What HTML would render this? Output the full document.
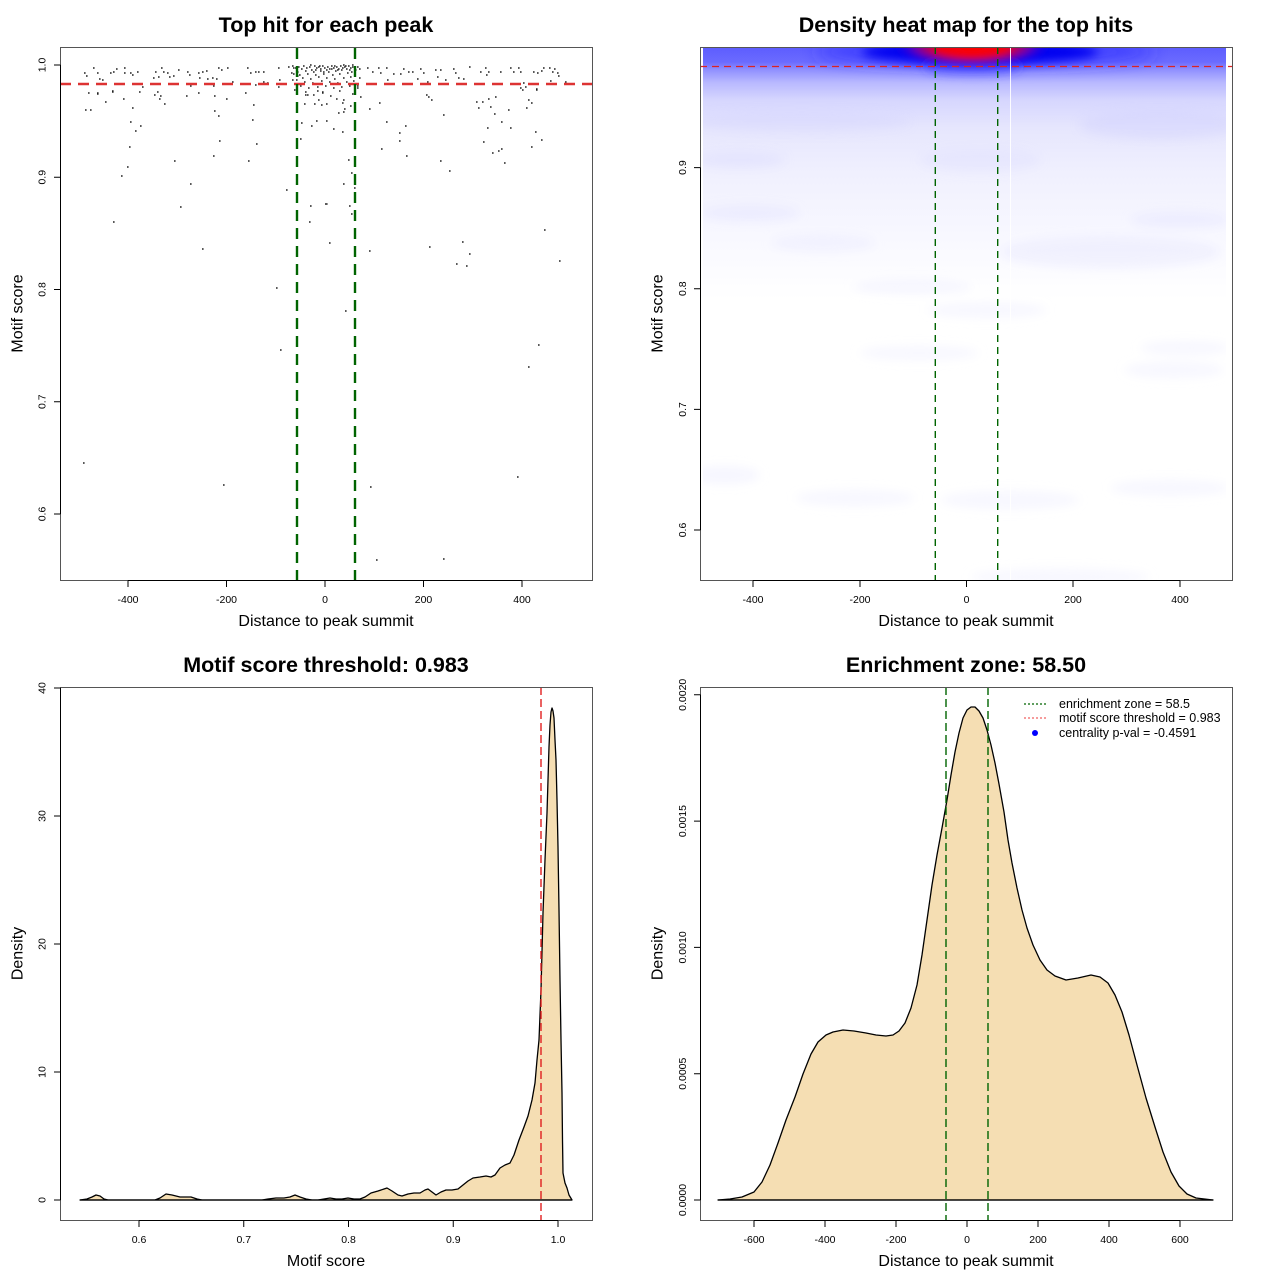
<!DOCTYPE html>
<html><head><meta charset="utf-8"><style>
body{margin:0;background:#fff}
svg{display:block}
text{font-family:"Liberation Sans",Arial,sans-serif;fill:#000}
.tk{font-size:10.5px}
.lab{font-size:16px}
.ttl{font-size:21.5px;font-weight:bold}
.leg{font-size:12.5px}
</style></head><body>
<svg width="1280" height="1280" viewBox="0 0 1280 1280" xmlns="http://www.w3.org/2000/svg">
<defs>
<clipPath id="hmclip"><rect x="703" y="47" width="523" height="533"/></clipPath>
<filter id="bl3" filterUnits="userSpaceOnUse" x="0" y="0" width="1280" height="1280"><feGaussianBlur stdDeviation="3"/></filter>
<filter id="bl5" filterUnits="userSpaceOnUse" x="0" y="0" width="1280" height="1280"><feGaussianBlur stdDeviation="5"/></filter>
<filter id="bl8" filterUnits="userSpaceOnUse" x="0" y="0" width="1280" height="1280"><feGaussianBlur stdDeviation="8"/></filter>
<linearGradient id="hg" gradientUnits="userSpaceOnUse" x1="0" y1="47" x2="0" y2="300">
<stop offset="0" stop-color="#5c5cff"/>
<stop offset="0.06" stop-color="#6b6bff"/>
<stop offset="0.09" stop-color="#9090ff"/>
<stop offset="0.14" stop-color="#b8b8ff"/>
<stop offset="0.21" stop-color="#d6d6fe"/>
<stop offset="0.32" stop-color="#e6e6fd"/>
<stop offset="0.5" stop-color="#f0f0fe"/>
<stop offset="0.75" stop-color="#f8f8ff"/>
<stop offset="1" stop-color="#ffffff"/>
</linearGradient>
<radialGradient id="rg" gradientUnits="objectBoundingBox" cx="0.5" cy="0.5" r="0.5">
<stop offset="0" stop-color="#ff0000" stop-opacity="1"/>
<stop offset="0.45" stop-color="#f00010" stop-opacity="1"/>
<stop offset="0.72" stop-color="#9000a0" stop-opacity="0.75"/>
<stop offset="1" stop-color="#0000ff" stop-opacity="0"/>
</radialGradient>
</defs>

<!-- ============ TOP LEFT ============ -->
<text class="ttl" x="326" y="32" text-anchor="middle">Top hit for each peak</text>
<path fill="none" stroke="#222" stroke-width="1.6" d="M88 93h1.6M97 94h1.6M112 92h1.6M123 99h1.6M105 102h1.6M85 110h1.6M90 110h1.6M139 92h1.6M132 108h1.6M130 122h1.6M140 126h1.6M135 131h1.6M129 147h1.6M127 167h1.6M121 176h1.6M113 222h1.6M154 95h1.6M157 92h1.6M160 96h1.6M159 99h1.6M164 104h1.6M186 96h1.6M198 93h1.6M214 96h1.6M226 99h1.6M245 93h1.6M253 105h1.6M214 111h1.6M218 116h1.6M252 120h1.6M219 141h1.6M256 144h1.6M213 156h1.6M248 161h1.6M174 161h1.6M190 184h1.6M180 207h1.6M286 190h1.6M202 249h1.6M276 288h1.6M280 350h1.6M83 463h1.6M223 485h1.6M305 95h1.6M307 95h1.6M317 91h1.6M322 92h1.6M304 104h1.6M314 104h1.6M321 105h1.6M301 123h1.6M316 121h1.6M311 126h1.6M300 139h1.6M310 206h1.6M309 222h1.6M325 204h1.6M343 100h1.6M350 106h1.6M344 109h1.6M343 112h1.6M338 113h1.6M326 121h1.6M333 129h1.6M342 132h1.6M369 109h1.6M379 103h1.6M426 95h1.6M428 97h1.6M431 100h1.6M443 115h1.6M386 122h1.6M405 126h1.6M399 133h1.6M399 141h1.6M381 149h1.6M406 156h1.6M440 161h1.6M449 171h1.6M476 102h1.6M482 102h1.6M488 99h1.6M495 97h1.6M478 108h1.6M490 107h1.6M494 114h1.6M508 110h1.6M501 122h1.6M487 128h1.6M510 128h1.6M483 142h1.6M492 153h1.6M498 151h1.6M501 149h1.6M504 163h1.6M526 108h1.6M528 100h1.6M531 103h1.6M535 132h1.6M541 140h1.6M531 147h1.6M348 160h1.6M351 173h1.6M343 184h1.6M354 188h1.6M349 206h1.6M351 214h1.6M326 204h1.6M329 243h1.6M369 251h1.6M429 247h1.6M462 242h1.6M469 254h1.6M456 264h1.6M466 266h1.6M544 230h1.6M559 261h1.6M345 311h1.6M538 345h1.6M528 367h1.6M517 477h1.6M370 487h1.6M376 560h1.6M443 559h1.6M536 90h1.6M522 90h1.6
M84 73h1.6M86 76h1.6M93 68h1.6M97 73h1.6M99 79h1.6M102 80h1.6M88 93h1.6M97 93h1.6M110 73h1.6M113 72h1.6M116 69h1.6M112 91h1.6M124 68h1.6M124 73h1.6M130 73h1.6M132 75h1.6M137 72h1.6M139 92h1.6M142 87h1.6M153 78h1.6M155 72h1.6M158 77h1.6M161 68h1.6M163 72h1.6M167 73h1.6M169 77h1.6M173 76h1.6M178 70h1.6M187 72h1.6M189 75h1.6M186 96h1.6M190 86h1.6M198 73h1.6M202 72h1.6M206 71h1.6M199 78h1.6M207 79h1.6M212 78h1.6M216 79h1.6M218 68h1.6M221 70h1.6M227 68h1.6M213 86h1.6M232 82h1.6M247 68h1.6M250 73h1.6M255 72h1.6M258 72h1.6M263 72h1.6M255 85h1.6M263 82h1.6M267 83h1.6M278 68h1.6M279 80h1.6M288 67h1.6M291 73h1.6M293 68h1.6M278 87h1.6M292 80h1.6
M367 68h1.6M372 72h1.6M378 68h1.6M386 68h1.6M380 73h1.6M387 80h1.6M393 74h1.6M400 74h1.6M403 69h1.6M408 72h1.6M412 72h1.6M420 69h1.6M423 73h1.6M417 79h1.6M427 82h1.6M435 70h1.6M440 70h1.6M437 77h1.6M445 80h1.6M453 69h1.6M455 73h1.6M458 78h1.6M463 79h1.6M469 67h1.6M480 72h1.6M485 68h1.6M488 72h1.6M486 75h1.6M500 72h1.6M510 68h1.6M513 72h1.6M518 68h1.6M520 72h1.6M523 83h1.6M510 84h1.6M533 72h1.6M537 73h1.6M541 71h1.6M543 68h1.6M549 68h1.6M552 72h1.6M554 69h1.6M557 73h1.6M558 76h1.6M550 81h1.6M565 82h1.6M536 89h1.6M520 88h1.6M525 87h1.6
M292 66h1.6M295 68h1.6M298 67h1.6M301 69h1.6M303 66h1.6M306 68h1.6M309 67h1.6M311 70h1.6M314 66h1.6M316 68h1.6M318 67h1.6M320 69h1.6M322 66h1.6M324 68h1.6M327 67h1.6M329 69h1.6M331 66h1.6M333 68h1.6M336 67h1.6M338 69h1.6M340 66h1.6M342 68h1.6M344 67h1.6M346 69h1.6M348 66h1.6M350 68h1.6M352 67h1.6M345 66h1.6M341 70h1.6M335 71h1.6M328 72h1.6M320 71h1.6M313 72h1.6M305 71h1.6M297 72h1.6M293 74h1.6M299 75h1.6M307 74h1.6M315 75h1.6M323 74h1.6M332 75h1.6M339 74h1.6M347 73h1.6M351 72h1.6M355 70h1.6M357 67h1.6M359 69h1.6M302 78h1.6M310 79h1.6M318 77h1.6M326 78h1.6M334 79h1.6M343 78h1.6M350 77h1.6M296 80h1.6M304 82h1.6M312 83h1.6M321 81h1.6M329 82h1.6M337 83h1.6M346 82h1.6M353 81h1.6M300 86h1.6M308 88h1.6M317 87h1.6M325 86h1.6M333 88h1.6M341 87h1.6M349 86h1.6M357 88h1.6M294 90h1.6M305 92h1.6M313 95h1.6M322 93h1.6M330 96h1.6M339 91h1.6M352 94h1.6M360 97h1.6M318 100h1.6M326 104h1.6M342 103h1.6M336 99h1.6M357 86h1.6M359 78h1.6M297 76h1.6M315 70h1.6M323 72h1.6M349 70h1.6M334 66h1.6M343 65h1.6M352 65h1.6M331 69h1.6M337 70h1.6M326 70h1.6M319 66h1.6M310 65h1.6"/>
<line x1="60" y1="84" x2="592" y2="84" stroke="#dd3333" stroke-width="2.6" stroke-dasharray="11,7"/>
<line x1="297" y1="48" x2="297" y2="580" stroke="#006400" stroke-width="2.4" stroke-dasharray="11,7"/>
<line x1="355" y1="48" x2="355" y2="580" stroke="#006400" stroke-width="2.4" stroke-dasharray="11,7"/>
<rect x="60.5" y="47.5" width="532" height="533" fill="none" stroke="#555" stroke-width="1"/>
<g stroke="#000" stroke-width="1" fill="none">
<path d="M60.5 65V514M54 65H60.5M54 177.25H60.5M54 289.5H60.5M54 401.75H60.5M54 514H60.5"/>
<path d="M128 580.5H522M128 580.5V587M226.5 580.5V587M325 580.5V587M423.5 580.5V587M522 580.5V587"/>
</g>
<g class="tk" text-anchor="middle">
<text transform="translate(45.5,65) rotate(-90)">1.0</text>
<text transform="translate(45.5,177.25) rotate(-90)">0.9</text>
<text transform="translate(45.5,289.5) rotate(-90)">0.8</text>
<text transform="translate(45.5,401.75) rotate(-90)">0.7</text>
<text transform="translate(45.5,514) rotate(-90)">0.6</text>
<text x="128" y="603">-400</text>
<text x="226.5" y="603">-200</text>
<text x="325" y="603">0</text>
<text x="423.5" y="603">200</text>
<text x="522" y="603">400</text>
</g>
<text class="lab" x="326" y="626" text-anchor="middle">Distance to peak summit</text>
<text class="lab" transform="translate(22.5,313.5) rotate(-90)" text-anchor="middle">Motif score</text>

<!-- ============ TOP RIGHT ============ -->
<text class="ttl" x="966" y="32" text-anchor="middle">Density heat map for the top hits</text>
<g clip-path="url(#hmclip)">
<rect x="703" y="47" width="523" height="533" fill="url(#hg)"/>
<g filter="url(#bl5)">
<ellipse cx="800" cy="122" rx="110" ry="10" fill="#d0d0ff" opacity="0.35"/>
<ellipse cx="740" cy="160" rx="45" ry="8" fill="#d6d6ff" opacity="0.35"/>
<ellipse cx="750" cy="213" rx="50" ry="8" fill="#dedeff" opacity="0.35"/>
<ellipse cx="1160" cy="125" rx="80" ry="14" fill="#ccccff" opacity="0.35"/>
<ellipse cx="1180" cy="220" rx="50" ry="8" fill="#dcdcff" opacity="0.3"/>
<ellipse cx="980" cy="160" rx="60" ry="12" fill="#dadaff" opacity="0.3"/>
<ellipse cx="823" cy="243" rx="52" ry="8" fill="#e6e6ff" opacity="0.4"/>
<ellipse cx="1110" cy="252" rx="110" ry="16" fill="#e4e4fd" opacity="0.4"/>
<ellipse cx="912" cy="287" rx="60" ry="7" fill="#ececff" opacity="0.4"/>
<ellipse cx="987" cy="310" rx="60" ry="8" fill="#ececff" opacity="0.4"/>
<ellipse cx="919" cy="353" rx="60" ry="7" fill="#ececff" opacity="0.4"/>
<ellipse cx="1185" cy="348" rx="45" ry="7" fill="#ececff" opacity="0.4"/>
<ellipse cx="1174" cy="370" rx="50" ry="8" fill="#ececff" opacity="0.4"/>
<ellipse cx="725" cy="475" rx="35" ry="9" fill="#e8e8ff" opacity="0.4"/>
<ellipse cx="855" cy="498" rx="60" ry="8" fill="#ececff" opacity="0.4"/>
<ellipse cx="1010" cy="500" rx="70" ry="9" fill="#ececff" opacity="0.4"/>
<ellipse cx="1170" cy="488" rx="60" ry="8" fill="#ececff" opacity="0.4"/>
<ellipse cx="1060" cy="577" rx="90" ry="8" fill="#ececff" opacity="0.4"/>
</g>
<g filter="url(#bl8)">
<ellipse cx="985" cy="52" rx="170" ry="13" fill="#3030ff" opacity="0.7"/>
</g>
<g filter="url(#bl5)">
<ellipse cx="980" cy="52" rx="118" ry="12" fill="#0000f0"/>
<ellipse cx="972" cy="67" rx="48" ry="7" fill="#3535ff" opacity="0.6"/>
</g>
<ellipse cx="972" cy="47" rx="80" ry="21" fill="url(#rg)" filter="url(#bl3)"/>
<line x1="1010.5" y1="47" x2="1010.5" y2="580" stroke="#fff" stroke-width="1" opacity="0.9"/>
</g>
<line x1="700" y1="66.5" x2="1232" y2="66.5" stroke="#dd2222" stroke-width="1.3" stroke-dasharray="7,5"/>
<line x1="935.3" y1="47" x2="935.3" y2="580" stroke="#006400" stroke-width="1.4" stroke-dasharray="7,5"/>
<line x1="997.7" y1="47" x2="997.7" y2="580" stroke="#006400" stroke-width="1.4" stroke-dasharray="7,5"/>
<rect x="700.5" y="47.5" width="532" height="533" fill="none" stroke="#555" stroke-width="1"/>
<g stroke="#000" stroke-width="1" fill="none">
<path d="M700.5 167.6V530M694 167.6H700.5M694 288.7H700.5M694 409.4H700.5M694 530H700.5"/>
<path d="M753 580.5H1180M753 580.5V587M860 580.5V587M966.5 580.5V587M1073 580.5V587M1180 580.5V587"/>
</g>
<g class="tk" text-anchor="middle">
<text transform="translate(686,167.6) rotate(-90)">0.9</text>
<text transform="translate(686,288.7) rotate(-90)">0.8</text>
<text transform="translate(686,409.4) rotate(-90)">0.7</text>
<text transform="translate(686,530) rotate(-90)">0.6</text>
<text x="753" y="603">-400</text>
<text x="860" y="603">-200</text>
<text x="966.5" y="603">0</text>
<text x="1073" y="603">200</text>
<text x="1180" y="603">400</text>
</g>
<text class="lab" x="966" y="626" text-anchor="middle">Distance to peak summit</text>
<text class="lab" transform="translate(662.5,313.5) rotate(-90)" text-anchor="middle">Motif score</text>

<!-- ============ BOTTOM LEFT ============ -->
<text class="ttl" x="326" y="672" text-anchor="middle">Motif score threshold: 0.983</text>
<path fill="#f5deb3" stroke="#000" stroke-width="1.3" stroke-linejoin="round" d="M80 1200L87 1199L92 1197L96 1195L100 1196L104 1199L108 1200L155 1200L160 1198L166 1194L172 1195L180 1197L191 1197L197 1199L202 1200L262 1200L268 1199L276 1198L284 1198L290 1197L295 1195L300 1197L306 1199L312 1200L318 1200L324 1199L330 1198L336 1199L342 1199L348 1198L354 1199L360 1199L365 1197L371 1193L378 1191L384 1189L387 1188L392 1191L398 1195L402 1196L408 1194L414 1193L420 1193L425 1190L428 1189L432 1192L436 1195L441 1192L446 1190L452 1190L458 1189L463 1185L468 1181L473 1178L480 1177L486 1176L491 1177L495 1175L500 1168L505 1165L510 1163L514 1155L519 1140L524 1127L528 1116L532 1100L535 1083L537 1060L539 1040L541 990L543 913L545 860L547 813L549 747L550 725L551 712L552 708L553 711L554 718L555 740L556 760L557 800L558 847L559 910L560 980L561 1040L562 1093L562.5 1140L563 1173L565 1183L567 1188L569 1195L572 1200Z"/>
<line x1="80" y1="1200" x2="572" y2="1200" stroke="#000" stroke-width="1.3"/>
<line x1="541" y1="687" x2="541" y2="1220" stroke="#e02020" stroke-width="1.4" stroke-dasharray="8,4"/>
<rect x="60.5" y="687.5" width="532" height="533" fill="none" stroke="#555" stroke-width="1"/>
<g stroke="#000" stroke-width="1" fill="none">
<path d="M60.5 688V1200M54 1200H60.5M54 1072H60.5M54 944H60.5M54 816H60.5M54 688H60.5"/>
<path d="M139 1220.5H558M139 1220.5V1227M243.75 1220.5V1227M348.5 1220.5V1227M453.25 1220.5V1227M558 1220.5V1227"/>
</g>
<g class="tk" text-anchor="middle">
<text transform="translate(45.5,1200) rotate(-90)">0</text>
<text transform="translate(45.5,1072) rotate(-90)">10</text>
<text transform="translate(45.5,944) rotate(-90)">20</text>
<text transform="translate(45.5,816) rotate(-90)">30</text>
<text transform="translate(45.5,688) rotate(-90)">40</text>
<text x="139" y="1243">0.6</text>
<text x="243.75" y="1243">0.7</text>
<text x="348.5" y="1243">0.8</text>
<text x="453.25" y="1243">0.9</text>
<text x="558" y="1243">1.0</text>
</g>
<text class="lab" x="326" y="1266" text-anchor="middle">Motif score</text>
<text class="lab" transform="translate(22.5,953.5) rotate(-90)" text-anchor="middle">Density</text>

<!-- ============ BOTTOM RIGHT ============ -->
<text class="ttl" x="966" y="672" text-anchor="middle">Enrichment zone: 58.50</text>
<path fill="#f5deb3" stroke="#000" stroke-width="1.3" stroke-linejoin="round" d="M718 1200L730 1199L742 1197L754 1192L762 1182L770 1165L778 1143L786 1120L795 1097L803 1074L811 1054L818 1042L826 1035L833 1032L843 1030L854 1031L866 1033L876 1035L886 1036L893 1035L899 1031L905 1023L911 1008L917 985L922 955L927 920L932 885L937 855L942 828L947 800L951 775L955 752L959 733L963 718L967 710L971 707L975 707L979 711L983 718L987 730L991 745L995 763L999 784L1004 812L1008 840L1012 863L1017 888L1022 910L1027 928L1033 945L1040 960L1047 970L1055 976L1066 980L1078 978L1091 975L1100 977L1108 983L1115 995L1122 1012L1129 1035L1137 1065L1146 1098L1155 1127L1163 1152L1171 1172L1179 1186L1187 1194L1196 1198L1213 1200Z"/>
<line x1="718" y1="1200" x2="1213" y2="1200" stroke="#000" stroke-width="1.3"/>
<line x1="946" y1="687" x2="946" y2="1220" stroke="#006400" stroke-width="1.4" stroke-dasharray="8,4"/>
<line x1="988" y1="687" x2="988" y2="1220" stroke="#006400" stroke-width="1.4" stroke-dasharray="8,4"/>
<line x1="1024" y1="704" x2="1048" y2="704" stroke="#006400" stroke-width="1.3" stroke-dasharray="2,2"/>
<line x1="1024" y1="718" x2="1048" y2="718" stroke="#f06060" stroke-width="1.3" stroke-dasharray="2,2"/>
<circle cx="1035" cy="733" r="3" fill="#0000ff"/>
<g class="leg">
<text x="1059" y="708">enrichment zone = 58.5</text>
<text x="1059" y="722">motif score threshold = 0.983</text>
<text x="1059" y="737">centrality p-val = -0.4591</text>
</g>
<rect x="700.5" y="687.5" width="532" height="533" fill="none" stroke="#555" stroke-width="1"/>
<g stroke="#000" stroke-width="1" fill="none">
<path d="M700.5 694.8V1200M694 1200H700.5M694 1073.7H700.5M694 947.4H700.5M694 821.1H700.5M694 694.8H700.5"/>
<path d="M754 1220.5H1180M754 1220.5V1227M825 1220.5V1227M896 1220.5V1227M967 1220.5V1227M1038 1220.5V1227M1109 1220.5V1227M1180 1220.5V1227"/>
</g>
<g class="tk" text-anchor="middle">
<text transform="translate(686,1200) rotate(-90)">0.0000</text>
<text transform="translate(686,1073.7) rotate(-90)">0.0005</text>
<text transform="translate(686,947.4) rotate(-90)">0.0010</text>
<text transform="translate(686,821.1) rotate(-90)">0.0015</text>
<text transform="translate(686,694.8) rotate(-90)">0.0020</text>
<text x="754" y="1243">-600</text>
<text x="825" y="1243">-400</text>
<text x="896" y="1243">-200</text>
<text x="967" y="1243">0</text>
<text x="1038" y="1243">200</text>
<text x="1109" y="1243">400</text>
<text x="1180" y="1243">600</text>
</g>
<text class="lab" x="966" y="1266" text-anchor="middle">Distance to peak summit</text>
<text class="lab" transform="translate(662.5,953.5) rotate(-90)" text-anchor="middle">Density</text>
</svg>
</body></html>
